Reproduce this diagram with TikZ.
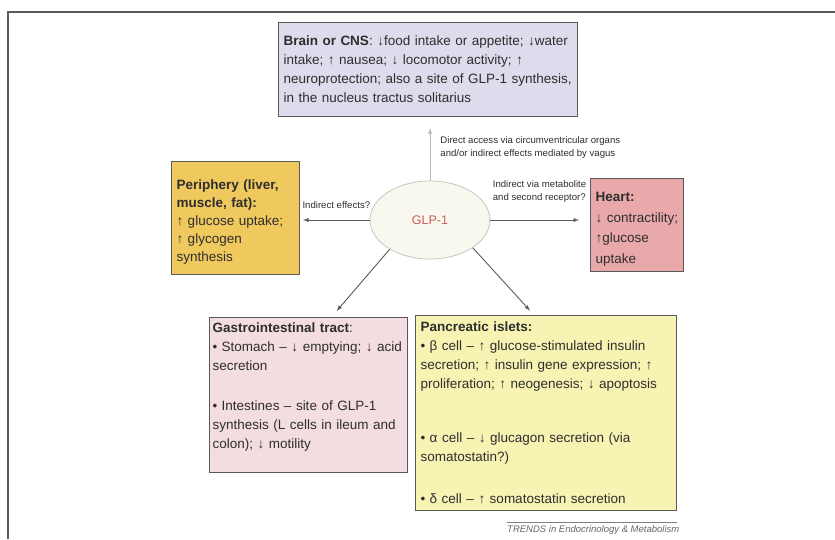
\documentclass[tikz,border=0pt]{standalone}
\usepackage{fontspec}
\setmainfont{Liberation Sans}
\usetikzlibrary{calc,positioning,shapes}

\definecolor{brainfill}{HTML}{DCDCEC}
\definecolor{perifill}{HTML}{F0C95E}
\definecolor{heartfill}{HTML}{E9A9AB}
\definecolor{gutfill}{HTML}{F3DDE0}
\definecolor{isletfill}{HTML}{F7F3B3}
\definecolor{glpfill}{HTML}{F9F8EE}
\definecolor{glptext}{HTML}{CC5C5C}
\definecolor{edgegray}{HTML}{5A5A5A}
\definecolor{inkgray}{HTML}{2E2E2E}

\tikzset{
  organ/.style={draw=edgegray, line width=1pt, anchor=north west, align=left,
    inner sep=5pt, text=inkgray, font=\fontsize{13.5}{19}\selectfont},
  effect/.style={draw=edgegray, line width=0.9pt, -latex},
  note/.style={font=\fontsize{9.6}{13.5}\selectfont, text=inkgray, align=left, inner sep=0pt},
}

\begin{document}
\begin{tikzpicture}[x=1pt,y=-1pt]
    \useasboundingbox (0,0) rectangle (835,539);
    % frame
    \draw[gray!70!black, line width=1.5pt] (8,539) -- (8,12) -- (835,12);

    \node[organ, fill=brainfill, text width=289pt, minimum height=94pt] (cns) at (278,22)
      {\textbf{Brain or CNS}: ↓food intake or appetite; ↓water\\
       intake; ↑ nausea; ↓ locomotor activity; ↑\\
       neuroprotection; also a site of GLP-1 synthesis,\\
       in the nucleus tractus solitarius};

    \node[organ, fill=perifill, text width=118pt, minimum height=113pt,
      font=\fontsize{13.5}{18}\selectfont] (peri) at (171,161)
      {\rule{0pt}{18pt}\textbf{Periphery (liver,}\\ \textbf{muscle, fat):}\\ ↑ glucose uptake;\\ ↑ glycogen\\ synthesis};

    \node[organ, fill=heartfill, text width=83pt, minimum height=93pt,
      font=\fontsize{13.5}{20.5}\selectfont] (heart) at (590,178)
      {\rule{0pt}{18pt}\textbf{Heart:}\\ ↓ contractility;\\ ↑glucose\\ uptake};

    \node[organ, fill=gutfill, inner xsep=3pt, text width=192pt, minimum height=153pt] (gut) at (209,317)
      {\textbf{Gastrointestinal tract}:\\
       • Stomach – ↓ emptying; ↓ acid\\
       secretion\\[21pt]
       • Intestines – site of GLP-1\\
       synthesis (L cells in ileum and\\
       colon); ↓ motility\\ \mbox{}};

    \node[organ, fill=isletfill, text width=251pt, minimum height=195pt] (islets) at (415,315)
      {\textbf{Pancreatic islets:}\\
       • β cell – ↑ glucose-stimulated insulin\\
       secretion; ↑ insulin gene expression; ↑\\
       proliferation; ↑ neogenesis; ↓ apoptosis\\[35pt]
       • α cell – ↓ glucagon secretion (via\\
       somatostatin?)\\[23pt]
       • δ cell – ↑ somatostatin secretion};

    \node[ellipse, draw=gray!45, line width=0.8pt, fill=glpfill, minimum width=120pt,
      minimum height=78pt, text=glptext, font=\fontsize{12.5}{14}\selectfont] (glp) at (430,220) {GLP-1};

    % routes of action
    \draw[effect, draw=gray!55, shorten >=11pt] (glp.north) -- (glp.north |- cns.south)
      node[note, pos=0.52, anchor=west, xshift=10pt]
      {Direct access via circumventricular organs\\ and/or indirect effects mediated by vagus};
    \draw[effect, shorten >=3pt] (glp.west) -- (peri.east |- glp.west)
      node[note, pos=0, anchor=south east, yshift=11pt, xshift=1pt] {Indirect effects?};
    \draw[effect, shorten >=11pt] (glp.east) -- (heart.west |- glp.east)
      node[note, pos=0, anchor=south west, yshift=17pt, xshift=2pt]
      {Indirect via metabolite\\ and second receptor?};
    \draw[effect, shorten >=8pt] (glp.216) -- ($(gut.north)+(23,0)$);
    \draw[effect, shorten >=6pt] (glp.-33) -- ($(islets.north)+(-12,0)$);

    \node[anchor=west, inner sep=3pt, text=gray!80!black,
      font=\fontsize{9.5}{11}\itshape] (credit) at (504,530)
      {TRENDS in Endocrinology \& Metabolism};
    \draw[gray, line width=0.6pt] ($(credit.north west)+(3,0)$) -- ($(credit.north east)+(-6,0)$);
\end{tikzpicture}
\end{document}
